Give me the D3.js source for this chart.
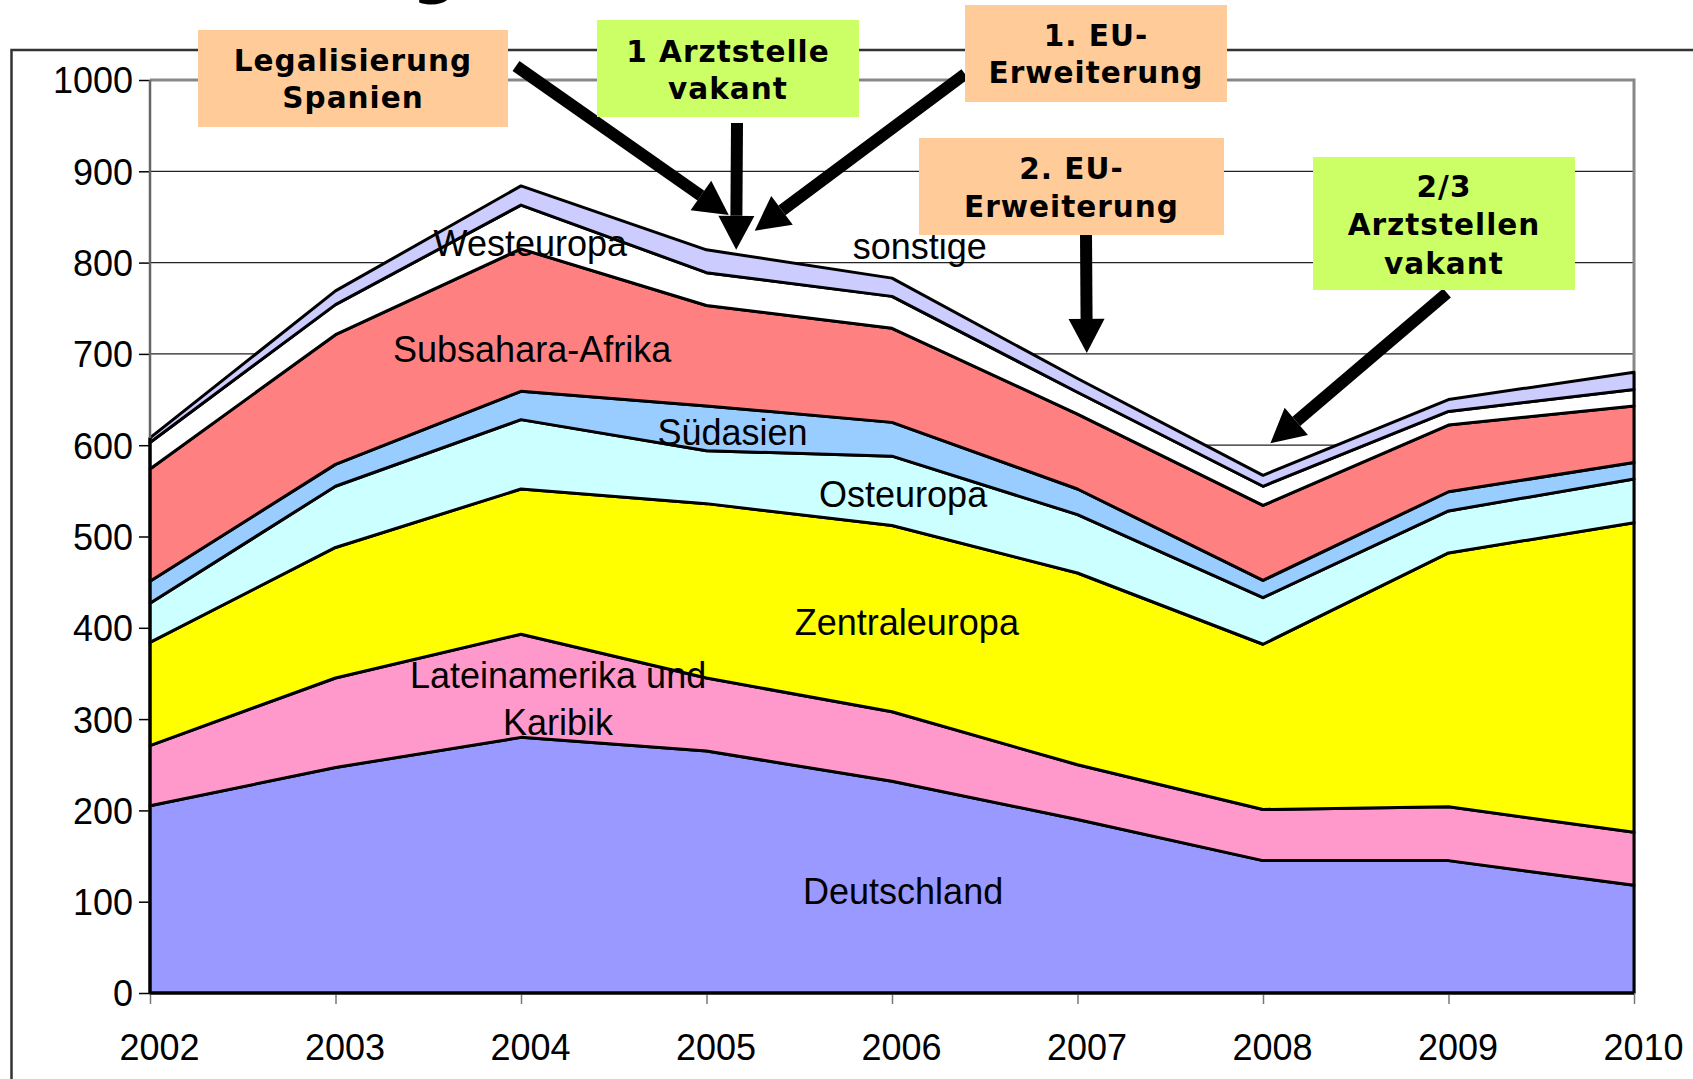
<!DOCTYPE html>
<html>
<head>
<meta charset="utf-8">
<script src="https://cdn.jsdelivr.net/npm/d3@7"></script>
<style>
  body { margin: 0; background: #fff; }
  svg { display: block; }
</style>
</head>
<body>
<svg id="chart"></svg>
<script>
const years = [2002, 2003, 2004, 2005, 2006, 2007, 2008, 2009, 2010];

const deutschland  = [205, 247, 280, 265, 232, 190, 145, 145, 118];
const lateinamerika = [66, 98, 113, 80, 76, 60, 56, 59, 58];
const zentraleuropa = [113, 143, 159, 191, 204, 210, 181, 278, 339];
const osteuropa    = [43, 67, 76, 58, 76, 64, 51, 46, 48];
const suedasien    = [24, 24, 31, 49, 37, 28, 19, 21, 18];
const subsahara    = [123, 142, 156, 110, 103, 82, 82, 73, 62];
const westeuropa   = [29, 33, 48, 36, 35, 24, 21, 15, 18];
const sonstige     = [5, 15, 21, 25, 20, 15, 12, 13, 19];

const seriesNames = ["Deutschland", "Lateinamerika", "Zentraleuropa", "Osteuropa",
                     "Südasien", "Subsahara", "Westeuropa", "sonstige"];
const seriesValues = [deutschland, lateinamerika, zentraleuropa, osteuropa,
                      suedasien, subsahara, westeuropa, sonstige];
const seriesColors = ["#9999FF", "#FF99CC", "#FFFF00", "#CCFFFF",
                      "#99CCFF", "#FF8080", "#FFFFFF", "#CCCCFF"];

const yTicks = [0, 100, 200, 300, 400, 500, 600, 700, 800, 900, 1000];

// labels inside the areas: [text lines, year, value]
const areaLabels = [
  [["Westeuropa"], 2004.05, 807],
  [["sonstige"], 2006.15, 804],
  [["Subsahara-Afrika"], 2004.06, 691],
  [["Südasien"], 2005.14, 600],
  [["Osteuropa"], 2006.06, 532],
  [["Zentraleuropa"], 2006.08, 392],
  [["Lateinamerika und", "Karibik"], 2004.2, 334],
  [["Deutschland"], 2006.06, 97]
];

// annotation boxes: lines, colour, box [x, y, w, h], arrow start [x, y], arrow tip [year, value]
const notes = [
  { lines: ["Legalisierung", "Spanien"], fill: "#FFCC99", box: [198, 30, 310, 97], base: [71, 108], from: [516, 66], tip: [2005.12, 852] },
  { lines: ["1 Arztstelle", "vakant"], fill: "#CCFF66", box: [597, 20, 262, 97], base: [62, 99], from: [737, 123], tip: [2005.16, 814] },
  { lines: ["1. EU-", "Erweiterung"], fill: "#FFCC99", box: [965, 5, 262, 97], base: [46, 83], from: [965, 74], tip: [2005.26, 835] },
  { lines: ["2. EU-", "Erweiterung"], fill: "#FFCC99", box: [919, 138, 305, 97], base: [179, 217], from: [1086, 233], tip: [2007.05, 701] },
  { lines: ["2/3", "Arztstellen", "vakant"], fill: "#CCFF66", box: [1313, 157, 262, 133], base: [197, 235, 274], from: [1447, 293], tip: [2008.04, 602] }
];

const W = 1693, H = 1079;
const plotLeft = 150, plotRight = 1634, plotTop = 80, plotBottom = 993;

const svg = d3.select("#chart").attr("width", W).attr("height", H);

const x = d3.scaleLinear().domain([2002, 2010]).range([plotLeft, plotRight]);
const y = d3.scaleLinear().domain([0, 1000]).range([plotBottom, plotTop]);

// cut-off title descender at the very top
svg.append("text")
  .attr("x", 412).attr("y", -9)
  .attr("font-family", "DejaVu Sans").attr("font-weight", "bold")
  .attr("font-size", 64).text("g");

// outer frame
svg.append("path")
  .attr("d", `M${W + 5},50 H11.5 V${H + 5}`)
  .attr("fill", "none").attr("stroke", "#333").attr("stroke-width", 2.5);

// gridlines
svg.append("g")
  .selectAll("line")
  .data(yTicks.filter(d => d > 0 && d < 1000))
  .enter().append("line")
  .attr("x1", plotLeft).attr("x2", plotRight)
  .attr("y1", d => y(d)).attr("y2", d => y(d))
  .attr("stroke", "#222").attr("stroke-width", 1.2);

// plot border (top + right)
svg.append("path")
  .attr("d", `M${plotLeft},${y(1000)} H${plotRight} V${plotBottom}`)
  .attr("fill", "none").attr("stroke", "#888").attr("stroke-width", 3);

// stacked areas
const table = years.map((yr, i) => {
  const row = { year: yr };
  seriesNames.forEach((n, k) => { row[n] = seriesValues[k][i]; });
  return row;
});

const stack = d3.stack().keys(seriesNames);
const layers = stack(table);

const area = d3.area()
  .x(d => x(d.data.year))
  .y0(d => y(d[0]))
  .y1(d => y(d[1]));

svg.append("g")
  .selectAll("path")
  .data(layers)
  .enter().append("path")
  .attr("d", area)
  .attr("fill", (d, i) => seriesColors[i])
  .attr("stroke", "#000")
  .attr("stroke-width", 3)
  .attr("stroke-linejoin", "round");

// y axis
const yAxis = svg.append("g")
  .attr("transform", `translate(${plotLeft},0)`)
  .call(d3.axisLeft(y).tickValues(yTicks).tickFormat(d3.format("d")).tickSize(11).tickPadding(6));
yAxis.select(".domain").remove();
yAxis.selectAll(".tick line").attr("stroke", "#000").attr("stroke-width", 1.5);
yAxis.selectAll("text")
  .attr("font-family", "Liberation Sans, Arial, sans-serif")
  .attr("font-size", 36).attr("fill", "#000")
  .attr("dy", "0.36em");

svg.append("line")
  .attr("x1", plotLeft).attr("x2", plotLeft)
  .attr("y1", y(1000)).attr("y2", plotBottom)
  .attr("stroke", "#666").attr("stroke-width", 2.5);
svg.append("line")
  .attr("x1", plotLeft).attr("x2", plotLeft)
  .attr("y1", y(d3.sum(seriesValues, s => s[0]))).attr("y2", plotBottom)
  .attr("stroke", "#000").attr("stroke-width", 3);

// x axis
const xAxis = svg.append("g")
  .attr("transform", `translate(0,${plotBottom})`)
  .call(d3.axisBottom(x).tickValues(years).tickFormat(d3.format("d")).tickSize(11).tickPadding(30));
xAxis.select(".domain").remove();
xAxis.selectAll(".tick line").attr("stroke", "#777").attr("stroke-width", 1.5);
xAxis.selectAll("text")
  .attr("font-family", "Liberation Sans, Arial, sans-serif")
  .attr("font-size", 36).attr("fill", "#000")
  .attr("dx", 9);

svg.append("line")
  .attr("x1", plotLeft).attr("x2", plotRight)
  .attr("y1", plotBottom).attr("y2", plotBottom)
  .attr("stroke", "#000").attr("stroke-width", 3);

// area labels
areaLabels.forEach(([lines, yr, val]) => {
  const t = svg.append("text")
    .attr("text-anchor", "middle")
    .attr("font-family", "Liberation Sans, Arial, sans-serif")
    .attr("font-size", 36).attr("fill", "#000");
  lines.forEach((l, i) => {
    t.append("tspan").attr("x", x(yr)).attr("y", y(val) + i * 47).text(l);
  });
});

// annotation boxes and arrows
const arrowG = svg.append("g");
notes.forEach(n => {
  const [bx, by, bw, bh] = n.box;
  svg.append("rect")
    .attr("x", bx).attr("y", by).attr("width", bw).attr("height", bh)
    .attr("fill", n.fill);
  n.lines.forEach((l, i) => {
    svg.append("text")
      .attr("x", bx + bw / 2).attr("y", n.base[i])
      .attr("text-anchor", "middle")
      .attr("font-family", "DejaVu Sans, Verdana, sans-serif")
      .attr("font-weight", "bold").attr("font-size", 29.5)
      .attr("letter-spacing", 1)
      .attr("fill", "#000").text(l);
  });

  const [x0, y0] = n.from;
  const x1 = x(n.tip[0]), y1 = y(n.tip[1]);
  const len = Math.hypot(x1 - x0, y1 - y0);
  const ux = (x1 - x0) / len, uy = (y1 - y0) / len;
  const headL = 34, headW = 18;
  const bxh = x1 - ux * headL, byh = y1 - uy * headL;
  arrowG.append("line")
    .attr("x1", x0).attr("y1", y0).attr("x2", bxh).attr("y2", byh)
    .attr("stroke", "#000").attr("stroke-width", 12);
  arrowG.append("path")
    .attr("d", `M${x1},${y1} L${bxh - uy * headW},${byh + ux * headW} L${bxh + uy * headW},${byh - ux * headW} Z`)
    .attr("fill", "#000");
});
</script>
</body>
</html>
